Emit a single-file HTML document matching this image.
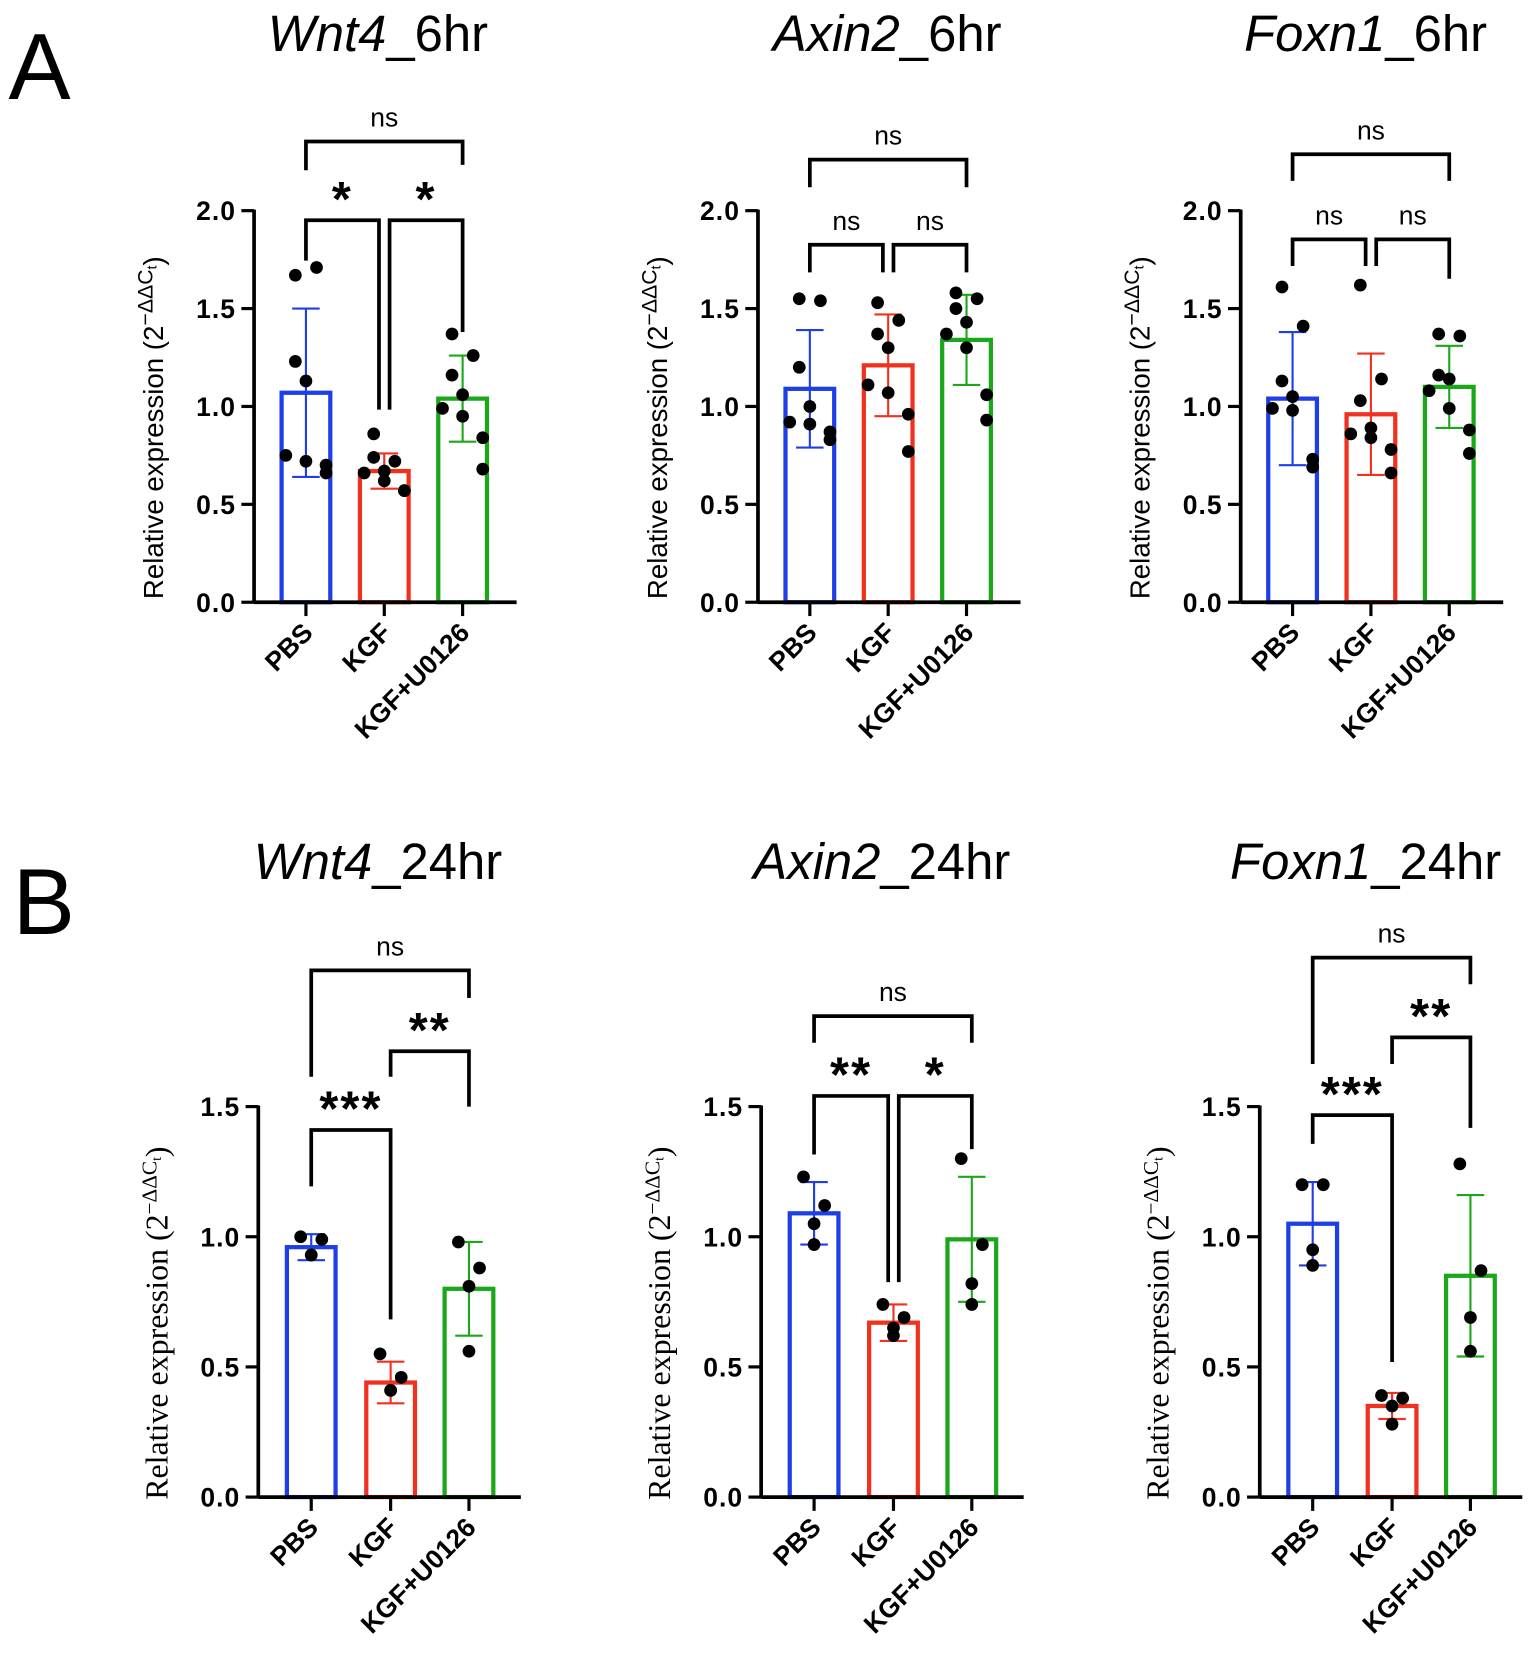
<!DOCTYPE html>
<html><head><meta charset="utf-8"><style>
html,body{margin:0;padding:0;background:#fff;}
svg{display:block;}
</style></head><body>
<svg id="fig" width="1535" height="1662" viewBox="0 0 1450 1562" preserveAspectRatio="none" xmlns="http://www.w3.org/2000/svg"></svg>
<script>
const categories = ["PBS","KGF","KGF+U0126"];
const colors = ["#1f3fe6","#f0311e","#1aa81a"];
// means
const meanWnt4_6 = [1.07,0.67,1.04];
const meanAxin2_6 = [1.09,1.21,1.34];
const meanFoxn1_6 = [1.04,0.96,1.10];
const meanWnt4_24 = [0.96,0.44,0.80];
const meanAxin2_24 = [1.09,0.67,0.99];
const meanFoxn1_24 = [1.05,0.35,0.85];
// SD
const sdWnt4_6 = [0.43,0.09,0.22];
const sdAxin2_6 = [0.30,0.26,0.23];
const sdFoxn1_6 = [0.34,0.31,0.21];
const sdWnt4_24 = [0.05,0.08,0.18];
const sdAxin2_24 = [0.12,0.07,0.24];
const sdFoxn1_24 = [0.16,0.05,0.31];
// points
const ptsWnt4_6 = [[1.67,1.71,1.23,1.13,0.75,0.72,0.70,0.66],[0.86,0.72,0.74,0.67,0.66,0.62,0.57,0.57],[1.37,1.26,1.16,1.06,0.99,0.95,0.84,0.68]];
const ptsAxin2_6 = [[1.55,1.54,1.20,1.00,0.92,0.91,0.87,0.83],[1.53,1.44,1.37,1.30,1.11,1.07,0.96,0.77],[1.58,1.55,1.50,1.43,1.37,1.30,1.06,0.93]];
const ptsFoxn1_6 = [[1.61,1.41,1.13,1.05,0.99,0.98,0.73,0.69],[1.62,1.14,1.03,0.89,0.86,0.84,0.78,0.66],[1.37,1.36,1.16,1.14,1.08,0.99,0.88,0.76]];
const ptsWnt4_24 = [[1.00,0.99,0.93,0.93],[0.55,0.46,0.41,0.41],[0.98,0.88,0.81,0.56]];
const ptsAxin2_24 = [[1.23,1.12,1.05,0.97],[0.74,0.69,0.65,0.62],[1.30,0.97,0.82,0.74]];
const ptsFoxn1_24 = [[1.20,1.20,0.95,0.89],[0.39,0.38,0.35,0.28],[1.28,0.87,0.69,0.56]];
const ticksA = [0,0.5,1.0,1.5,2.0];
const ticksB = [0,0.5,1.0,1.5];

const NS="http://www.w3.org/2000/svg";
const svg=document.getElementById('fig');
function mk(tag,attrs,parent){const e=document.createElementNS(NS,tag);for(const k in attrs)e.setAttribute(k,attrs[k]);(parent||svg).appendChild(e);return e;}

const jit8=[-10,10,-10,0,-19,0,19,19];
const jit4=[-10,10,0,0];

function panel(p){
  const g=mk('g',{});
  
  
  const yv=v=>p.base-(v/p.max)*(p.base-p.top);
  const xc=i=>p.ax+p.off[i];
  const t=mk('text',{x:p.tx,y:p.ty,'text-anchor':'middle','font-family':'Liberation Sans, sans-serif','font-size':48},g);
  
  
  const ti=mk('tspan',{'font-style':'italic'},t);ti.textContent=p.gene;
  const tr=mk('tspan',{},t);tr.textContent=p.suffix;
  for(let i=0;i<3;i++){
    const r=mk('rect',{x:xc(i)-23,y:yv(p.mean[i]),width:46,height:p.base-yv(p.mean[i]),fill:'none',stroke:colors[i],'stroke-width':4},g);
    
    
    const hi=yv(p.mean[i]+p.sd[i]),lo=yv(p.mean[i]-p.sd[i]);
    const eb=mk('path',{d:`M${xc(i)},${hi}V${lo}M${xc(i)-13},${hi}H${xc(i)+13}M${xc(i)-13},${lo}H${xc(i)+13}`,stroke:colors[i],'stroke-width':2,fill:'none'},g);
    
    
    const pts=p.pts[i];const jit=pts.length>4?jit8:jit4;
    pts.forEach((v,j)=>{
      const c=mk('circle',{cx:xc(i)+jit[j],cy:yv(v),r:6,fill:'#000'},g);
      
      
    });
  }
  const ya=mk('path',{d:`M${p.ax},${p.top-1}V${p.base}`,stroke:'#000','stroke-width':3.5,fill:'none'},g);
  
  
  const xa=mk('path',{d:`M${p.ax},${p.base}H${p.ax+248}`,stroke:'#000','stroke-width':3.5,fill:'none'},g);
  
  
  p.ticks.forEach(v=>{
    mk('path',{d:`M${p.ax-12},${yv(v)}H${p.ax}`,stroke:'#000','stroke-width':3},g);
    const tl=mk('text',{x:p.ax-17,y:yv(v)+9,'text-anchor':'end','font-family':'Liberation Sans, sans-serif','font-weight':'bold','font-size':25,'letter-spacing':1},g);
    
    
    tl.textContent=v.toFixed(1);
  });
  for(let i=0;i<3;i++){
    mk('path',{d:`M${xc(i)},${p.base}V${p.base+13}`,stroke:'#000','stroke-width':3},g);
    const x=xc(i)+8,y=p.base+30;
    const xl=mk('text',{x:x,y:y,'text-anchor':'end','font-family':'Liberation Sans, sans-serif','font-weight':'bold','font-size':25,transform:`rotate(-45 ${x} ${y})`},g);
    
    
    xl.textContent=categories[i];
  }
  const lx=p.ax-86,ly=(p.base+p.top)/2+20;
  const yl=mk('text',{x:lx,y:ly,'text-anchor':'middle','font-family':p.serif?'Liberation Serif, serif':'Liberation Sans, sans-serif','font-size':p.serif?30:26,transform:`rotate(-90 ${lx} ${ly})`},g);
  
  
  const a=mk('tspan',{},yl);a.textContent='Relative expression (2';
  const b=mk('tspan',{dy:-10,'font-size':20},yl);b.textContent='−ΔΔC';
  const c=mk('tspan',{'font-size':13,dy:4},yl);c.textContent='t';
  const d=mk('tspan',{dy:6},yl);d.textContent=')';
  p.br.forEach(bk=>{
    const x1=xc(bk[0])+bk[1],x2=xc(bk[2])+bk[3];
    const pb=mk('path',{d:`M${x1},${bk[5]}V${bk[4]}H${x2}V${bk[6]}`,stroke:'#000','stroke-width':3.5,fill:'none'},g);
    
    
    const star=bk[7]!=='ns';
    const sl=mk('text',{x:(x1+x2)/2,y:bk[4]-(star?4:14),'text-anchor':'middle','font-family':'Liberation Sans, sans-serif','font-weight':star?'bold':'normal','font-size':star?46:25,'letter-spacing':star?2:0},g);
    
    
    sl.textContent=bk[7];
  });
}
const offA=[49,123,197],offB=[50,125,199];
panel({name:'panel-wnt4-6hr',gene:'Wnt4',suffix:'_6hr',tx:357,ty:48,ax:240,base:566,top:198,max:2,ticks:ticksA,off:offA,mean:meanWnt4_6,sd:sdWnt4_6,pts:ptsWnt4_6,
  br:[[0,0,2,0,133,160,155,'ns'],[0,0,1,-5,207,245,385,'*'],[1,5,2,0,207,385,312,'*']]});
panel({name:'panel-axin2-6hr',gene:'Axin2',suffix:'_6hr',tx:838,ty:48,ax:716,base:566,top:198,max:2,ticks:ticksA,off:offA,mean:meanAxin2_6,sd:sdAxin2_6,pts:ptsAxin2_6,
  br:[[0,0,2,0,150,176,176,'ns'],[0,0,1,-5,230,256,256,'ns'],[1,5,2,0,230,256,256,'ns']]});
panel({name:'panel-foxn1-6hr',gene:'Foxn1',suffix:'_6hr',tx:1290,ty:48,ax:1172,base:566,top:198,max:2,ticks:ticksA,off:offA,mean:meanFoxn1_6,sd:sdFoxn1_6,pts:ptsFoxn1_6,
  br:[[0,0,2,0,145,170,170,'ns'],[0,0,1,-5,225,250,250,'ns'],[1,5,2,0,225,250,262,'ns']]});
panel({name:'panel-wnt4-24hr',gene:'Wnt4',suffix:'_24hr',tx:357,ty:826,ax:244,base:1407,top:1040,max:1.5,ticks:ticksB,off:offB,mean:meanWnt4_24,sd:sdWnt4_24,pts:ptsWnt4_24,serif:true,
  br:[[0,0,2,0,912,1012,938,'ns'],[1,0,2,0,988,1012,1040,'**'],[0,0,1,0,1062,1115,1240,'***']]});
panel({name:'panel-axin2-24hr',gene:'Axin2',suffix:'_24hr',tx:833,ty:826,ax:719,base:1407,top:1040,max:1.5,ticks:ticksB,off:offB,mean:meanAxin2_24,sd:sdAxin2_24,pts:ptsAxin2_24,serif:true,
  br:[[0,0,2,0,955,980,980,'ns'],[0,0,1,-5,1030,1085,1205,'**'],[1,5,2,0,1030,1205,1080,'*']]});
panel({name:'panel-foxn1-24hr',gene:'Foxn1',suffix:'_24hr',tx:1290,ty:826,ax:1190,base:1407,top:1040,max:1.5,ticks:ticksB,off:offB,mean:meanFoxn1_24,sd:sdFoxn1_24,pts:ptsFoxn1_24,serif:true,
  br:[[0,0,2,0,900,1000,925,'ns'],[1,0,2,0,975,1000,1060,'**'],[0,0,1,0,1048,1075,1280,'***']]});
const A=mk('text',{x:8,y:93,'font-family':'Liberation Sans, sans-serif','font-size':88});


A.textContent='A';
const B=mk('text',{x:12,y:878,'font-family':'Liberation Sans, sans-serif','font-size':88});


B.textContent='B';
</script>
</body></html>
